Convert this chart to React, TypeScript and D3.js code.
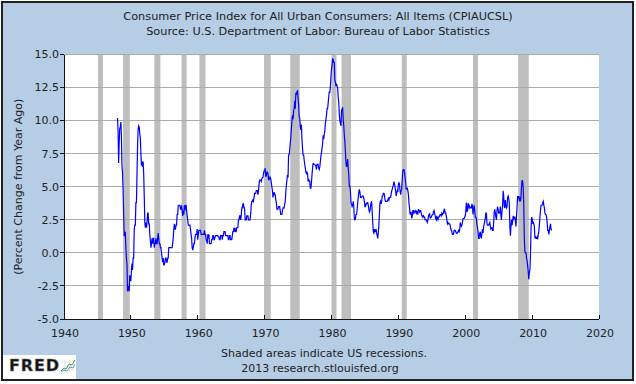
import * as d3 from "d3";

const TITLE = "Consumer Price Index for All Urban Consumers: All Items (CPIAUCSL)";
const SUBTITLE = "Source: U.S. Department of Labor: Bureau of Labor Statistics";
const Y_LABEL = "(Percent Change from Year Ago)";
const FOOT1 = "Shaded areas indicate US recessions.";
const FOOT2 = "2013 research.stlouisfed.org";

// monthly % change from year ago, one row per year, starting 1948
const firstYear = 1948;
const cpiYoY: number[][] = [
  [10.2, 9.3, 6.8, 8.3, 9.4, 9.5, 9.9, 8.9, 6.6, 6.1, 4.8, 3.0], // 1948
  [1.3, 1.3, 1.6, 0.4, -0.4, -0.8, -2.9, -2.8, -2.5, -2.9, -1.7, -2.1],
  [-2.1, -1.3, -0.8, -1.3, -0.4, -0.4, 1.7, 2.1, 2.1, 3.8, 3.8, 5.9], // 1950
  [8.1, 9.3, 9.6, 9.5, 9.0, 8.7, 7.5, 6.6, 6.9, 6.5, 6.9, 6.0],
  [4.3, 2.3, 1.9, 2.3, 1.9, 2.3, 3.0, 3.0, 2.2, 2.2, 1.4, 0.9],
  [0.4, 0.7, 1.1, 0.7, 1.1, 1.1, 0.4, 0.7, 0.7, 1.1, 0.7, 0.7],
  [1.1, 1.5, 1.1, 0.7, 0.7, 0.4, 0.4, 0.0, -0.4, -0.7, -0.4, -0.9],
  [-0.9, -0.7, -0.4, -0.4, -0.7, -0.7, -0.4, -0.4, 0.4, 0.4, 0.4, 0.4],
  [0.4, 0.4, 0.4, 0.7, 1.1, 1.8, 2.2, 1.8, 1.8, 2.1, 2.1, 2.9],
  [2.9, 3.6, 3.6, 3.6, 3.6, 3.3, 3.3, 3.6, 3.2, 2.8, 3.2, 2.9],
  [3.6, 3.2, 3.6, 3.6, 3.2, 2.8, 2.5, 2.1, 2.1, 2.1, 2.1, 1.8],
  [1.4, 1.1, 0.4, 0.2, 0.4, 0.7, 0.7, 1.1, 1.4, 1.4, 1.4, 1.8],
  [1.0, 1.4, 1.7, 1.7, 1.7, 1.7, 1.4, 1.4, 1.4, 1.4, 1.4, 1.4], // 1960
  [1.7, 1.4, 1.4, 1.0, 0.9, 0.7, 1.4, 1.1, 1.4, 0.7, 0.7, 0.7],
  [0.7, 1.0, 1.0, 1.3, 1.3, 1.0, 1.0, 1.2, 1.3, 1.3, 1.3, 1.3],
  [1.3, 1.2, 1.2, 1.0, 1.0, 1.3, 1.3, 1.3, 1.0, 1.3, 1.3, 1.6],
  [1.6, 1.6, 1.3, 1.3, 1.3, 1.3, 1.3, 1.0, 1.0, 1.3, 1.3, 1.0],
  [1.0, 1.0, 1.3, 1.6, 1.6, 1.9, 1.6, 1.9, 1.6, 1.6, 1.9, 1.9],
  [1.9, 2.5, 2.5, 2.8, 2.8, 2.5, 2.8, 3.4, 3.4, 3.7, 3.7, 3.4],
  [3.4, 2.5, 2.5, 2.5, 2.8, 2.8, 2.8, 2.5, 2.5, 2.5, 2.5, 3.0],
  [3.6, 3.9, 3.9, 4.0, 3.9, 4.2, 4.5, 4.5, 4.5, 4.7, 4.7, 4.7],
  [4.4, 4.7, 5.2, 5.5, 5.5, 5.5, 5.4, 5.6, 5.7, 5.7, 6.0, 6.2],
  [6.2, 6.4, 5.8, 5.8, 6.1, 6.1, 6.0, 5.5, 5.7, 5.6, 5.7, 5.6], // 1970
  [5.3, 5.0, 4.7, 4.2, 4.4, 4.6, 4.4, 4.4, 4.0, 3.8, 3.3, 3.3],
  [3.3, 3.5, 3.5, 3.5, 3.2, 2.9, 2.9, 2.9, 3.2, 3.4, 3.4, 3.4],
  [3.7, 3.9, 4.6, 5.1, 5.5, 5.9, 5.7, 7.4, 7.4, 7.8, 8.3, 8.7],
  [9.4, 10.0, 10.4, 10.1, 10.7, 10.9, 11.5, 10.9, 12.1, 12.0, 12.1, 12.3],
  [11.7, 11.2, 10.3, 10.2, 9.5, 9.3, 9.7, 8.6, 7.9, 7.4, 7.4, 7.0],
  [6.7, 6.4, 6.1, 6.0, 6.1, 6.0, 5.4, 5.6, 5.4, 5.4, 4.9, 4.9],
  [5.3, 5.9, 6.4, 6.8, 6.7, 6.7, 6.7, 6.6, 6.6, 6.3, 6.7, 6.7],
  [6.7, 6.4, 6.3, 6.5, 6.9, 7.3, 7.6, 7.9, 8.2, 8.9, 8.6, 9.0],
  [9.2, 9.8, 10.1, 10.4, 10.9, 10.9, 11.3, 11.8, 12.2, 12.1, 12.6, 13.3],
  [13.9, 14.2, 14.7, 14.6, 14.4, 14.4, 13.1, 12.9, 12.6, 12.8, 12.6, 12.5], // 1980
  [11.8, 11.4, 10.5, 10.0, 9.8, 9.6, 10.8, 10.8, 11.0, 10.1, 9.6, 8.9],
  [8.4, 7.6, 6.8, 6.5, 6.7, 7.1, 6.4, 5.9, 5.0, 5.1, 4.6, 3.8],
  [3.7, 3.5, 3.6, 3.9, 3.5, 2.6, 2.5, 2.6, 2.9, 2.9, 3.3, 3.8],
  [4.2, 4.6, 4.8, 4.6, 4.2, 4.2, 4.2, 4.3, 4.3, 4.3, 4.1, 3.9],
  [3.5, 3.5, 3.7, 3.7, 3.8, 3.8, 3.6, 3.3, 3.1, 3.2, 3.5, 3.8],
  [3.9, 3.1, 2.3, 1.6, 1.5, 1.8, 1.6, 1.6, 1.8, 1.5, 1.3, 1.1],
  [1.5, 2.1, 3.0, 3.8, 3.9, 3.7, 3.9, 4.3, 4.3, 4.5, 4.5, 4.4],
  [4.0, 3.9, 3.9, 3.9, 3.9, 4.0, 4.1, 4.0, 4.2, 4.2, 4.2, 4.4],
  [4.7, 4.8, 5.0, 5.1, 5.4, 5.2, 5.0, 4.7, 4.3, 4.5, 4.7, 4.6],
  [5.2, 5.3, 5.2, 4.7, 4.4, 4.7, 4.8, 5.6, 6.2, 6.3, 6.3, 6.1], // 1990
  [5.7, 5.3, 4.8, 4.9, 4.9, 4.7, 4.4, 3.8, 3.4, 2.9, 3.0, 3.1],
  [2.6, 2.8, 3.2, 3.2, 3.0, 3.1, 3.2, 3.1, 3.0, 3.2, 3.0, 2.9],
  [3.3, 3.2, 3.1, 3.2, 3.2, 3.0, 2.8, 2.8, 2.7, 2.8, 2.7, 2.7],
  [2.5, 2.5, 2.5, 2.4, 2.3, 2.5, 2.8, 2.9, 3.0, 2.6, 2.7, 2.7],
  [2.8, 2.9, 2.9, 3.1, 3.2, 3.0, 2.8, 2.6, 2.5, 2.8, 2.6, 2.5],
  [2.7, 2.7, 2.8, 2.9, 2.9, 2.8, 3.0, 2.9, 3.0, 3.0, 3.3, 3.3],
  [3.0, 3.0, 2.8, 2.5, 2.2, 2.3, 2.2, 2.2, 2.2, 2.1, 1.8, 1.7],
  [1.6, 1.4, 1.4, 1.4, 1.7, 1.7, 1.7, 1.6, 1.5, 1.5, 1.5, 1.6],
  [1.7, 1.6, 1.7, 2.3, 2.1, 2.0, 2.1, 2.3, 2.6, 2.6, 2.6, 2.7],
  [2.8, 3.2, 3.8, 3.1, 3.2, 3.7, 3.7, 3.4, 3.5, 3.4, 3.4, 3.4], // 2000
  [3.7, 3.5, 2.9, 3.3, 3.6, 3.2, 2.7, 2.7, 2.6, 2.1, 1.9, 1.6],
  [1.1, 1.1, 1.5, 1.6, 1.2, 1.1, 1.5, 1.8, 1.5, 2.0, 2.2, 2.4],
  [2.6, 3.0, 3.0, 2.2, 2.1, 2.1, 2.1, 2.2, 2.3, 2.0, 1.8, 1.9],
  [1.9, 1.7, 1.7, 2.3, 3.1, 3.3, 3.0, 2.7, 2.5, 3.2, 3.5, 3.3],
  [3.0, 3.0, 3.1, 3.5, 2.8, 2.5, 3.2, 3.6, 4.7, 4.3, 3.5, 3.4],
  [4.0, 3.6, 3.4, 3.5, 4.2, 4.3, 4.1, 3.8, 2.1, 1.3, 2.0, 2.5],
  [2.1, 2.4, 2.8, 2.6, 2.7, 2.7, 2.4, 2.0, 2.8, 3.5, 4.3, 4.1],
  [4.3, 4.0, 4.1, 3.9, 4.2, 5.0, 5.5, 5.4, 4.9, 3.7, 1.1, 0.1],
  [0.0, 0.0, -0.4, -0.6, -1.0, -1.4, -2.0, -1.5, -1.3, -0.2, 1.8, 2.7],
  [2.6, 2.2, 2.3, 2.2, 2.0, 1.1, 1.2, 1.1, 1.1, 1.2, 1.1, 1.4], // 2010
  [1.6, 2.1, 2.7, 3.2, 3.6, 3.6, 3.6, 3.8, 3.9, 3.6, 3.4, 3.0],
  [2.9, 2.9, 2.7, 2.3, 1.7, 1.7, 1.4, 1.7, 2.0, 2.2, 1.8, 1.7],
];

// NBER recessions, peak month to trough month
const recessions: [string, string][] = [
  ["1945-02", "1945-10"],
  ["1948-11", "1949-10"],
  ["1953-07", "1954-05"],
  ["1957-08", "1958-04"],
  ["1960-04", "1961-02"],
  ["1969-12", "1970-11"],
  ["1973-11", "1975-03"],
  ["1980-01", "1980-07"],
  ["1981-07", "1982-11"],
  ["1990-07", "1991-03"],
  ["2001-03", "2001-11"],
  ["2007-12", "2009-06"],
];

const yTicks = [-5, -2.5, 0, 2.5, 5, 7.5, 10, 12.5, 15];
const xTicks = [1940, 1950, 1960, 1970, 1980, 1990, 2000, 2010, 2020];

const W = 636;
const H = 384;
const FONT = "'DejaVu Sans', Verdana, sans-serif";
const BG = "#b5cde5";

const toYear = (s: string, end = false) => {
  const [y, m] = s.split("-").map(Number);
  return y + (m - (end ? 0 : 1)) / 12;
};

export default function App() {
  const margin = { top: 54.5, right: 37, bottom: 65, left: 64 };
  const x = d3.scaleLinear().domain([1940, 2020]).range([margin.left, W - margin.right]);
  const y = d3.scaleLinear().domain([-5, 15]).range([H - margin.bottom, margin.top]);

  const points = cpiYoY.flatMap((row, i) =>
    row.map((v, m) => ({ t: firstYear + i + m / 12, v }))
  );
  const line = d3
    .line<{ t: number; v: number }>()
    .x((d) => x(d.t))
    .y((d) => y(d.v));

  const [x0, x1] = x.range();
  const [yb, yt] = y.range();

  return (
    <svg
      width={W}
      height={H}
      style={{ position: "absolute", left: 0, top: 0, background: "#fff" }}
      fontFamily={FONT}
    >
      <rect x={2} y={2} width={631} height={378} fill={BG} stroke="#222" strokeWidth={2} />

      <text x={318} y={20} textAnchor="middle" fontSize={11.3} fill="#222">{TITLE}</text>
      <text x={318} y={35} textAnchor="middle" fontSize={11.3} fill="#222">{SUBTITLE}</text>

      <rect x={x0} y={yt} width={x1 - x0} height={yb - yt} fill="#fff" />

      {recessions.map(([a, b]) => (
        <rect
          key={a}
          x={x(toYear(a))}
          y={yt}
          width={Math.max(5, x(toYear(b, true)) - x(toYear(a)))}
          height={yb - yt}
          fill="#bebebe"
        />
      ))}

      {yTicks.map((t) => (
        <g key={t}>
          {t > -5 && (
            <line x1={x0} x2={x1} y1={y(t)} y2={y(t)} stroke="#aaa" strokeWidth={1} shapeRendering="crispEdges" />
          )}
          <line x1={x0 - 4} x2={x0} y1={y(t)} y2={y(t)} stroke="#111" shapeRendering="crispEdges" />
          <text x={x0 - 5} y={y(t)} dy="0.35em" textAnchor="end" fontSize={11} fill="#222">
            {t.toFixed(1)}
          </text>
        </g>
      ))}

      {xTicks.map((t) => (
        <g key={t}>
          <line x1={x(t)} x2={x(t)} y1={yb} y2={yb - 4} stroke="#111" shapeRendering="crispEdges" />
          <text x={x(t) + 1} y={337} textAnchor="middle" fontSize={11} fill="#222">{t}</text>
        </g>
      ))}

      <path d={line(points) ?? ""} fill="none" stroke="#0000ff" strokeWidth={1.2} strokeLinejoin="miter" />

      <line x1={x0} x2={x0} y1={yt} y2={yb} stroke="#111" shapeRendering="crispEdges" />
      <line x1={x0} x2={x1} y1={yb} y2={yb} stroke="#111" shapeRendering="crispEdges" />

      <text
        transform={`translate(22,${(yt + yb) / 2}) rotate(-90)`}
        textAnchor="middle"
        fontSize={11}
        fill="#222"
      >
        {Y_LABEL}
      </text>

      <text x={324} y={357} textAnchor="middle" fontSize={11} fill="#222">{FOOT1}</text>
      <text x={320} y={372} textAnchor="middle" fontSize={11} fill="#222">{FOOT2}</text>

      {/* FRED logo */}
      <rect x={3} y={355} width={73} height={24} fill="#fff" />
      <text
        x={9}
        y={371}
        fontSize={16}
        fontWeight="bold"
        fill="#111"
        stroke="#777"
        strokeWidth={0.6}
        textLength={50}
        fontFamily="'DejaVu Sans', sans-serif"
      >
        FRED
      </text>
      <g stroke="#ccc" strokeWidth={0.5}>
        <line x1={61} x2={75} y1={362} y2={362} />
        <line x1={61} x2={75} y1={366} y2={366} />
        <line x1={61} x2={75} y1={370} y2={370} />
        <line x1={65} x2={65} y1={359} y2={372} />
        <line x1={70} x2={70} y1={359} y2={372} />
      </g>
      <polyline points="61,371 64,368 66,369 69,364 72,365 75,360" fill="none" stroke="#4a9a3a" strokeWidth={1} />
      <polyline points="61,372 64,370 67,371 70,367 73,368 75,364" fill="none" stroke="#6a8fd0" strokeWidth={1} />
    </svg>
  );
}
